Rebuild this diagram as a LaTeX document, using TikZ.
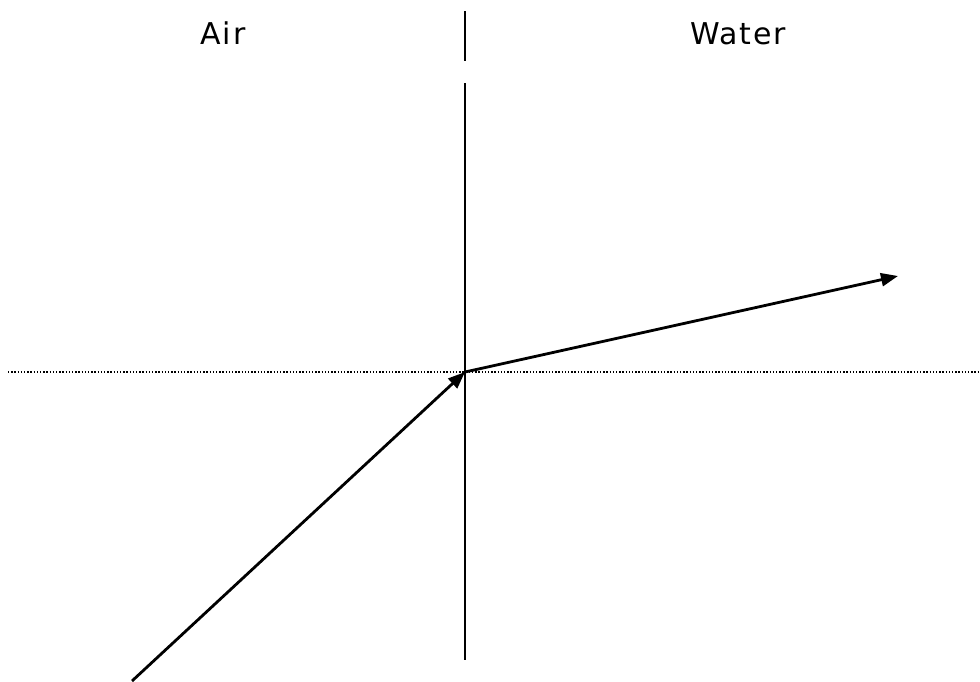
\documentclass[tikz,border=0pt]{standalone}
\usepackage{fontspec}
\setmainfont{DejaVu Sans}[LetterSpace=6]
\usetikzlibrary{arrows.meta}
\begin{document}
\begin{tikzpicture}[x=1pt,y=-1pt,
  ray/.style={line width=2.8pt,-{Triangle[length=17pt,width=13pt]}},
  normal/.style={line width=2.2pt},
  surface/.style={line width=1.3pt,dash pattern=on 1.3pt off 1.9pt},
  lbl/.style={font=\fontsize{30}{34}\selectfont,anchor=base,inner sep=0pt}]
\useasboundingbox (0,0) rectangle (980,681);
\coordinate (nt1) at (465,11);
\coordinate (nt2) at (465,61);
\coordinate (nb1) at (465,83);
\coordinate (nb2) at (465,660);
\coordinate (sl) at (8,372);
\coordinate (sr) at (980,372);
\coordinate (o) at (465,372);
\coordinate (src) at (132,681);
\coordinate (dst) at (898,276);
\draw[normal] (nt1) -- (nt2);
\draw[normal] (nb1) -- (nb2);
\draw[surface] (sl) -- (sr);
\draw[ray] (src) -- (o);
\draw[ray] (o) -- (dst);
\node[lbl] (air) at (223,44) {Air};
\node[lbl] (water) at (738,44) {Water};
\end{tikzpicture}
\end{document}
